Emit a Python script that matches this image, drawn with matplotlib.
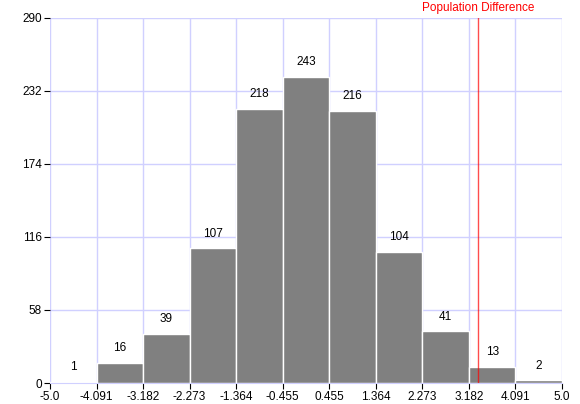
import numpy as np
import matplotlib

matplotlib.use('Agg')
import matplotlib.pyplot as plt

plt.rcParams['font.family'] = ['Liberation Sans', 'DejaVu Sans']

# histogram data
bin_edges = [-5.0, -4.091, -3.182, -2.273, -1.364, -0.455, 0.455, 1.364, 2.273, 3.182, 4.091, 5.0]
counts = [1, 16, 39, 107, 218, 243, 216, 104, 41, 13, 2]
y_ticks = [0, 58, 116, 174, 232, 290]
pop_diff = 3.36

fig = plt.figure(figsize=(5.8, 4.04), dpi=100)
ax = fig.add_axes([50 / 580, 21 / 404, 512 / 580, 365 / 404])

lefts = bin_edges[:-1]
widths = np.diff(bin_edges)
bars = ax.bar(lefts, counts, width=widths, align='edge', color='#808080',
              edgecolor='white', linewidth=1, zorder=2)
for x, w, c in zip(lefts, widths, counts):
    ax.text(x + w / 2, c + 7, str(c), ha='center', va='bottom', fontsize=8.5, zorder=4)

ax.axvline(pop_diff, color='red', alpha=0.7, linewidth=1, zorder=3)
ax.text(pop_diff, 293, 'Population Difference', color='red', ha='center', va='bottom',
        fontsize=8.5)

ax.set_xlim(-5.0, 5.0)
ax.set_ylim(0, 290)
ax.set_xticks(bin_edges)
ax.set_xticklabels(['-5.0', '-4.091', '-3.182', '-2.273', '-1.364', '-0.455', '0.455',
                    '1.364', '2.273', '3.182', '4.091', '5.0'])
ax.set_yticks(y_ticks)
ax.tick_params(labelsize=8.5, length=4, width=0.8, pad=2)
ax.grid(True, color='#d0d0ff', linewidth=1, zorder=0)
ax.set_axisbelow(True)
for s in ['top', 'right', 'left']:
    ax.spines[s].set_visible(False)
ax.spines['bottom'].set_color('#d0d0ff')

fig.savefig('out.png', dpi=100)
